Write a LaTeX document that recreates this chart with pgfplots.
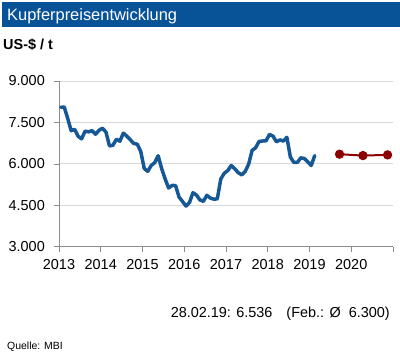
\documentclass[border=0pt]{standalone}
\usepackage{pgfplots}
\pgfplotsset{compat=1.18}
\usepackage{fontspec}
\setmainfont{Liberation Sans}
\definecolor{barblue}{RGB}{8,82,152}
\definecolor{lineblue}{RGB}{22,88,150}
\definecolor{fcred}{RGB}{140,0,0}
\definecolor{gridgray}{RGB}{217,217,217}
\definecolor{axgray}{RGB}{140,140,140}
\begin{document}
\begin{tikzpicture}[x=1bp,y=1bp]
\useasboundingbox (0,0) rectangle (400,-359);
\fill[barblue] (2,-1.5) rectangle (400,-26.5);
\node[anchor=base west, inner sep=0pt, text=white, font=\fontsize{16.5}{18}\selectfont] at (7,-20) {Kupferpreisentwicklung};
\node[anchor=base west, inner sep=0pt, font=\fontsize{14.5}{16}\selectfont\bfseries] at (3,-49.5) {US-\$ / t};
\begin{axis}[
  at={(59bp,-246.7bp)}, anchor=south west,
  scale only axis, width=334bp, height=165.7bp,
  xmin=2013, xmax=2021, ymin=3000, ymax=9000,
  axis x line=bottom, axis y line=left,
  axis line style={-, axgray, line width=0.6bp},
  xtick={2013,2014,2015,2016,2017,2018,2019,2020,2021},
  xticklabels={2013,2014,2015,2016,2017,2018,2019,2020,{}},
  ytick={3000,4500,6000,7500,9000},
  yticklabels={3.000,4.500,6.000,7.500,9.000},
  tick align=outside, major tick length=5bp,
  tick style={axgray, line width=0.6bp},
  ymajorgrids, grid style={gridgray, line width=0.8bp},
  ticklabel style={font=\fontsize{14.5}{16}\selectfont, text=black},
  xticklabel style={anchor=north, inner sep=0pt, yshift=-8bp},
  yticklabel style={anchor=east, inner sep=0pt, xshift=-9bp},
  /pgf/number format/assume math mode=true,
  clip=false,
]
\addplot[lineblue, line width=3.5bp, line cap=round, line join=round] coordinates {
(2013.0417,8047) (2013.1250,8060) (2013.2083,7645) (2013.2917,7202) (2013.3750,7248) (2013.4583,7000)
(2013.5417,6906) (2013.6250,7186) (2013.7083,7159) (2013.7917,7203) (2013.8750,7071) (2013.9583,7215)
(2014.0417,7291) (2014.1250,7149) (2014.2083,6650) (2014.2917,6674) (2014.3750,6891) (2014.4583,6821)
(2014.5417,7113) (2014.6250,7002) (2014.7083,6872) (2014.7917,6737) (2014.8750,6713) (2014.9583,6446)
(2015.0417,5831) (2015.1250,5729) (2015.2083,5940) (2015.2917,6042) (2015.3750,6295) (2015.4583,5833)
(2015.5417,5457) (2015.6250,5127) (2015.7083,5217) (2015.7917,5216) (2015.8750,4800) (2015.9583,4638)
(2016.0417,4472) (2016.1250,4599) (2016.2083,4954) (2016.2917,4873) (2016.3750,4695) (2016.4583,4643)
(2016.5417,4864) (2016.6250,4760) (2016.7083,4723) (2016.7917,4731) (2016.8750,5450) (2016.9583,5660)
(2017.0417,5755) (2017.1250,5941) (2017.2083,5825) (2017.2917,5684) (2017.3750,5600) (2017.4583,5720)
(2017.5417,5985) (2017.6250,6486) (2017.7083,6580) (2017.7917,6812) (2017.8750,6827) (2017.9583,6834)
(2018.0417,7066) (2018.1250,7007) (2018.2083,6799) (2018.2917,6868) (2018.3750,6825) (2018.4583,6962)
(2018.5417,6248) (2018.6250,6052) (2018.7083,6051) (2018.7917,6219) (2018.8750,6194) (2018.9583,6073)
(2019.0417,5939) (2019.1250,6300)
};
\addplot[fcred, line width=2bp, mark=*, mark size=3.6bp, mark options={fill=fcred, draw=fcred}] coordinates {
(2019.72,6350) (2020.28,6300) (2020.87,6325)
};
\end{axis}
\node[anchor=base east, inner sep=0pt, font=\fontsize{14.5}{16}\selectfont] at (390,-317) {28.02.19: 6.536\hspace{14bp}(Feb.: Ø\hspace{8bp}6.300)};
\node[anchor=base west, inner sep=0pt, font=\fontsize{10.5}{12}\selectfont] at (7,-349) {Quelle: MBI};
\end{tikzpicture}
\end{document}
